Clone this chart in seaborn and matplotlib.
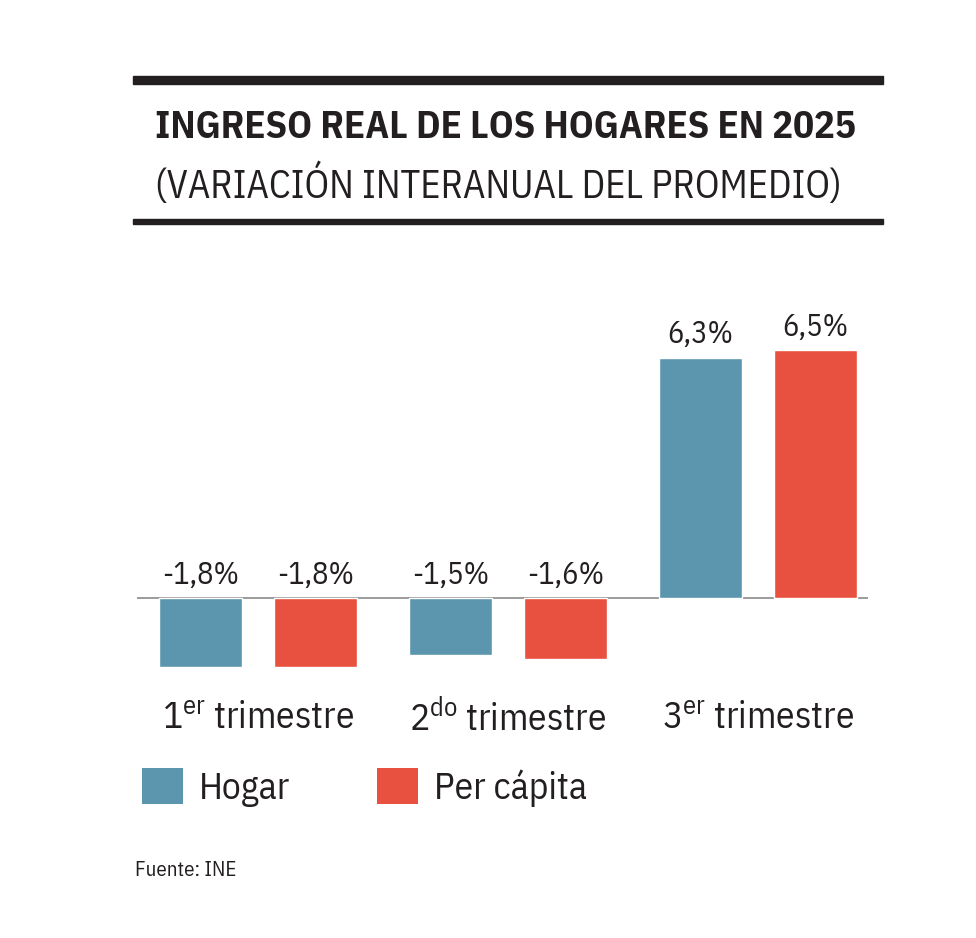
import matplotlib.pyplot as plt
import matplotlib.patches as mpatches
import seaborn as sns
import pandas as pd

# Data
trimestres = ['1er trimestre', '2do trimestre', '3er trimestre']
tick_labels = [r'1$^{er}$ trimestre',
               r'2$^{do}$ trimestre',
               r'3$^{er}$ trimestre']
series = ['Hogar', 'Per cápita']
hogar = [-1.8, -1.5, 6.3]
per_capita = [-1.8, -1.6, 6.5]

colors = {'Hogar': '#5B95AE', 'Per cápita': '#E8513F'}
ink = '#231f20'

df = pd.DataFrame({
    'trimestre': trimestres * 2,
    'serie': ['Hogar'] * 3 + ['Per cápita'] * 3,
    'valor': hogar + per_capita,
})

sns.set_theme(style='white')
plt.rcParams['font.family'] = ['IBM Plex Sans Condensed', 'DejaVu Sans']
plt.rcParams['mathtext.default'] = 'regular'

fig = plt.figure(figsize=(9.76, 9.38), dpi=100)
fig.patch.set_facecolor('white')
ax = fig.add_axes([137 / 976, 1 - 700 / 938, 731 / 976, 400 / 938])

sns.barplot(data=df, x='trimestre', y='valor', hue='serie', order=trimestres,
            hue_order=series, palette=colors, width=0.92, gap=0.28,
            saturation=1, ax=ax, errorbar=None)

ax.set_xlim(-0.484, 2.44)
ax.set_ylim(-2.67, 7.81)
ax.axhline(0, color='#8a8a8a', linewidth=1.2, zorder=0)

# value labels
for cont in ax.containers:
    for bar in cont:
        v = bar.get_height()
        y = max(v, 0) + 0.22
        ax.text(bar.get_x() + bar.get_width() / 2, y,
                f'{v:.1f}%'.replace('.', ','), ha='center', va='bottom',
                fontsize=22, color=ink)

ax.set_xticks(range(3))
ax.set_xticklabels(tick_labels, fontsize=27, color=ink)
ax.tick_params(axis='x', length=0, pad=0)
ax.set_yticks([])
ax.set_xlabel('')
ax.set_ylabel('')
for s in ax.spines.values():
    s.set_visible(False)

# legend
handles = [mpatches.Patch(facecolor=colors[s], edgecolor='none') for s in series]
ax.get_legend().remove()
fig.legend(handles, series, loc='upper left', bbox_to_anchor=(142 / 976, 1 - 768 / 938),
           ncol=2, frameon=False, fontsize=27, handlelength=1.1, handleheight=1.1,
           handletextpad=0.42, columnspacing=2.3, labelcolor=ink,
           borderpad=0, borderaxespad=0)

# title block
fig.add_artist(mpatches.Rectangle((133 / 976, 1 - 84 / 938), 750 / 976, 8 / 938,
                                  transform=fig.transFigure, color=ink))
fig.add_artist(mpatches.Rectangle((133 / 976, 1 - 224 / 938), 750 / 976, 5 / 938,
                                  transform=fig.transFigure, color=ink))
fig.text(155 / 976, 1 - 128 / 938, 'INGRESO REAL DE LOS HOGARES EN 2025',
         fontsize=27.9, fontweight='bold', color=ink, va='center', ha='left')
fig.text(155 / 976, 1 - 185 / 938, '(VARIACIÓN INTERANUAL DEL PROMEDIO)',
         fontsize=27.8, color=ink, va='center', ha='left')

fig.text(135 / 976, 1 - 870 / 938, 'Fuente: INE', fontsize=15,
         color=ink, va='center', ha='left')

fig.savefig('out.png', dpi=100, facecolor='white')
